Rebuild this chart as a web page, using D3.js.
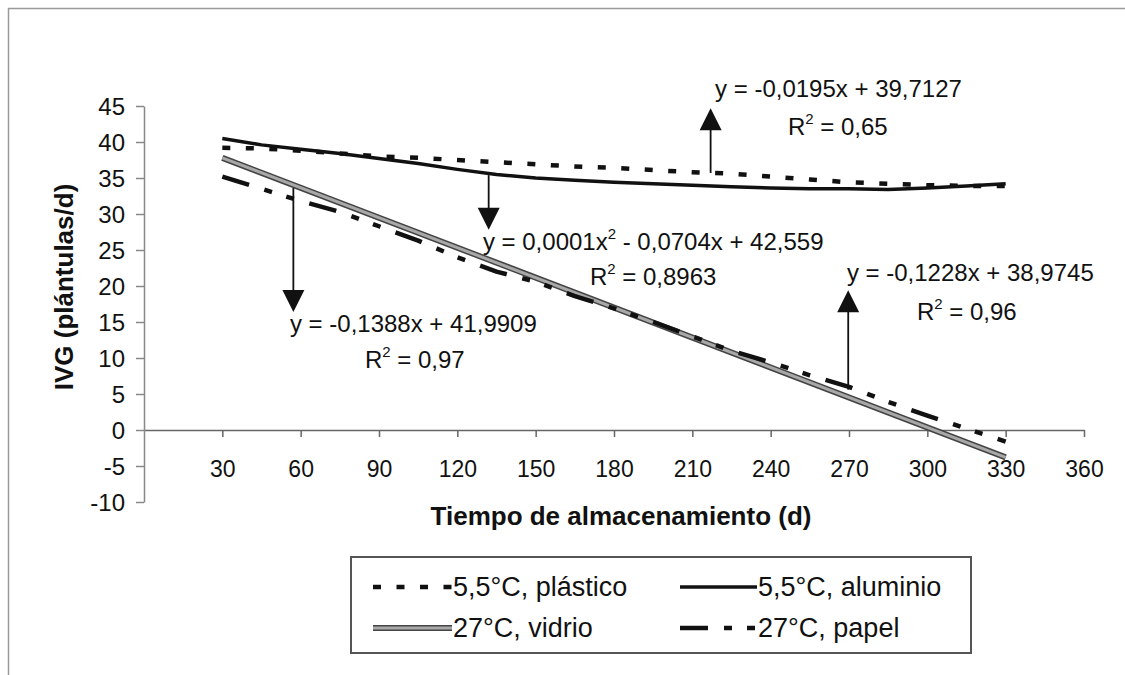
<!DOCTYPE html>
<html>
<head>
<meta charset="utf-8">
<script src="https://cdn.jsdelivr.net/npm/d3@7"></script>
<style>
    body { margin: 0; background: #fff; }
    svg { display: block; font-family: Arial, "Liberation Sans", sans-serif; }
</style>
</head>
<body>
<div id="chart"></div>
<script>
// valores (dias de almacenamiento, IVG)
var dias = [30, 45, 60, 75, 90, 105, 120, 135, 150, 165, 180, 195, 210, 225, 240, 255, 270, 285, 300, 315, 330];
var plastico = [39.2, 39.1, 38.8, 38.4, 38.0, 37.8, 37.5, 37.2, 36.9, 36.6, 36.4, 36.1, 35.8, 35.6, 35.2, 34.8, 34.4, 34.2, 34.0, 33.9, 33.9];
var aluminio = [40.5, 39.6, 39.0, 38.4, 37.7, 37.0, 36.2, 35.5, 35.0, 34.7, 34.4, 34.2, 34.0, 33.8, 33.6, 33.5, 33.5, 33.4, 33.6, 33.9, 34.2];
var papel = [35.2, 33.5, 31.8, 30.3, 28.3, 26.3, 24.0, 22.0, 20.6, 18.6, 16.9, 15.0, 13.0, 11.0, 9.4, 7.6, 6.0, 3.9, 2.0, 0.2, -1.6];
var vidrioDias = [30, 330];
var vidrio = [37.8, -3.8];

var xTicks = [30, 60, 90, 120, 150, 180, 210, 240, 270, 300, 330, 360];
var yTicks = [-10, -5, 0, 5, 10, 15, 20, 25, 30, 35, 40, 45];

var seriesNames = ["5,5°C, plástico", "5,5°C, aluminio", "27°C, vidrio", "27°C, papel"];

// ecuaciones de las lineas de tendencia
var ecuaciones = [
    [["y = -0,0195x + 39,7127"]],
    [["y = 0,0001x"], ["2", "sup"], [" - 0,0704x + 42,559"]],
    [["y = -0,1388x + 41,9909"]],
    [["y = -0,1228x + 38,9745"]]
];
var r2 = ["0,65", "0,8963", "0,97", "0,96"];

var width = 1125, height = 675;

var svg = d3.select('#chart')
    .append('svg')
    .attr('width', width)
    .attr('height', height);

// marco exterior (solo se ve arriba y a la izquierda)
svg.append('rect')
    .attr('x', 8.5).attr('y', 8.5)
    .attr('width', 1300).attr('height', 900)
    .attr('fill', 'none')
    .attr('stroke', '#9a9a9a')
    .attr('stroke-width', 1.5);

var xScale = d3.scaleLinear().domain([0, 360]).range([144, 1084]);
var yScale = d3.scaleLinear().domain([-10, 45]).range([502, 106]);

// eje x en y = 0
var xAxis = d3.axisBottom(xScale)
    .tickValues(xTicks)
    .tickSize(7)
    .tickSizeOuter(0)
    .tickFormat(function (d) { return String(d); });

var gx = svg.append('g')
    .attr('transform', 'translate(0,' + yScale(0) + ')')
    .call(xAxis);
gx.select('.domain').attr('stroke', '#666').attr('stroke-width', 1.5);
gx.selectAll('.tick line').attr('stroke', '#666').attr('stroke-width', 1.5);
gx.selectAll('.tick text')
    .attr('y', 47).attr('dy', 0)
    .attr('fill', '#111')
    .style('font-size', '23px')
    .style('font-family', 'Arial, "Liberation Sans", sans-serif');

var yAxis = d3.axisLeft(yScale)
    .tickValues(yTicks)
    .tickSize(8)
    .tickSizeOuter(0)
    .tickPadding(11)
    .tickFormat(function (d) { return String(d); });

var gy = svg.append('g')
    .attr('transform', 'translate(' + xScale(0) + ',0)')
    .call(yAxis);
gy.select('.domain').attr('stroke', '#888').attr('stroke-width', 1.5);
gy.selectAll('.tick line').attr('stroke', '#888').attr('stroke-width', 1.5);
gy.selectAll('.tick text')
    .attr('fill', '#111')
    .attr('dy', '0.36em')
    .style('font-size', '24px')
    .style('font-family', 'Arial, "Liberation Sans", sans-serif');

// titulos de ejes
svg.append('text')
    .attr('x', 621).attr('y', 525)
    .attr('text-anchor', 'middle')
    .attr('font-weight', 'bold')
    .attr('font-size', 26)
    .attr('fill', '#111')
    .text('Tiempo de almacenamiento (d)');

svg.append('text')
    .attr('transform', 'translate(73,287) rotate(-90)')
    .attr('text-anchor', 'middle')
    .attr('font-weight', 'bold')
    .attr('font-size', 26)
    .attr('fill', '#111')
    .text('IVG (plántulas/d)');

// estilos de las series
var estilos = [
    { stroke: '#111', width: 4.5, dash: '8,15.5' },
    { stroke: '#111', width: 3.5, dash: null },
    { stroke: '#444', width: 6, dash: null, inner: '#a8a8a8', innerWidth: 3 },
    { stroke: '#111', width: 4.5, dash: '28,16,8,15,8,16' }
];

var line = d3.line()
    .x(function (d) { return xScale(d[0]); })
    .y(function (d) { return yScale(d[1]); });

var seriesData = [
    d3.zip(dias, plastico),
    d3.zip(dias, aluminio),
    d3.zip(vidrioDias, vidrio),
    d3.zip(dias, papel)
];

// orden de dibujo: vidrio debajo
[2, 0, 1, 3].forEach(function (i) {
    var st = estilos[i];
    svg.append('path')
        .datum(seriesData[i])
        .attr('d', line)
        .attr('fill', 'none')
        .attr('stroke', st.stroke)
        .attr('stroke-width', st.width)
        .attr('stroke-dasharray', st.dash)
        .attr('stroke-linejoin', 'round');
    if (st.inner) {
        svg.append('path')
            .datum(seriesData[i])
            .attr('d', line)
            .attr('fill', 'none')
            .attr('stroke', st.inner)
            .attr('stroke-width', st.innerWidth);
    }
});

// flechas de las anotaciones (x, y inicio, y punta) en unidades del grafico
var flechas = [
    [217, 35.7, 44.7],
    [132, 35.4, 27.8],
    [57.2, 33.6, 16.4],
    [269.7, 5.6, 19.4]
];

flechas.forEach(function (f) {
    var x = xScale(f[0]), y0 = yScale(f[1]), y1 = yScale(f[2]);
    var dir = y1 < y0 ? 1 : -1;
    svg.append('line')
        .attr('x1', x).attr('x2', x)
        .attr('y1', y0).attr('y2', y1 + dir * 20)
        .attr('stroke', '#111')
        .attr('stroke-width', 1.8);
    svg.append('path')
        .attr('d', 'M' + x + ',' + y1 + 'L' + (x - 11) + ',' + (y1 + dir * 22) + 'L' + (x + 11) + ',' + (y1 + dir * 22) + 'Z')
        .attr('fill', '#111');
});

// posiciones de textos de ecuaciones y R2 (unidades del grafico)
var posEcuacion = [[218.7, 46.25], [129.8, 25.0], [55.9, 13.61], [269.2, 20.69]];
var posR2 = [[246.6, 40.97], [170.8, 20.14], [84.6, 8.61], [296.0, 15.28]];

ecuaciones.forEach(function (partes, i) {
    var t = svg.append('text')
        .attr('x', xScale(posEcuacion[i][0]))
        .attr('y', yScale(posEcuacion[i][1]))
        .attr('font-size', 24)
        .attr('fill', '#111');
    partes.forEach(function (p) {
        if (p[1] === 'sup') {
            t.append('tspan').attr('dy', -11).attr('font-size', 15).text(p[0]);
        } else {
            var ts = t.append('tspan').text(p[0]);
            if (t.selectAll('tspan').size() > 1) ts.attr('dy', 11);
        }
    });

    var r = svg.append('text')
        .attr('x', xScale(posR2[i][0]))
        .attr('y', yScale(posR2[i][1]))
        .attr('font-size', 24)
        .attr('fill', '#111');
    r.append('tspan').text('R');
    r.append('tspan').attr('dy', -11).attr('font-size', 15).text('2');
    r.append('tspan').attr('dy', 11).text(' = ' + r2[i]);
});

// leyenda
var legend = svg.append('g');
legend.append('rect')
    .attr('x', 351).attr('y', 557)
    .attr('width', 620).attr('height', 96)
    .attr('fill', '#fff')
    .attr('stroke', '#555')
    .attr('stroke-width', 2);

var legPos = [[373, 587], [680, 587], [373, 628], [680, 628]];
var legLen = [79, 77, 79, 77];

seriesNames.forEach(function (name, i) {
    var st = estilos[i];
    var x = legPos[i][0], y = legPos[i][1];
    legend.append('line')
        .attr('x1', x).attr('x2', x + legLen[i])
        .attr('y1', y).attr('y2', y)
        .attr('stroke', st.stroke)
        .attr('stroke-width', st.width)
        .attr('stroke-dasharray', st.dash);
    if (st.inner) {
        legend.append('line')
            .attr('x1', x).attr('x2', x + legLen[i])
            .attr('y1', y).attr('y2', y)
            .attr('stroke', st.inner)
            .attr('stroke-width', st.innerWidth);
    }
    legend.append('text')
        .attr('x', x + legLen[i] + 1)
        .attr('y', y + 9)
        .attr('font-size', 27)
        .attr('fill', '#111')
        .text(name);
});
</script>
</body>
</html>
